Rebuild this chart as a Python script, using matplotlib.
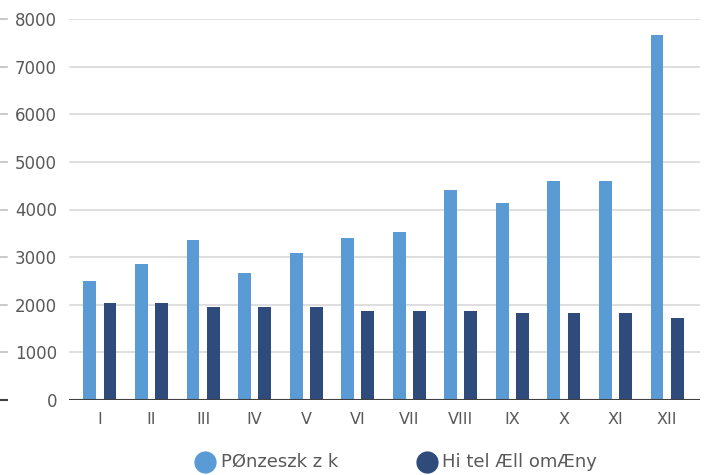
import matplotlib
matplotlib.use("Agg")
import matplotlib.pyplot as plt
from matplotlib.lines import Line2D
import numpy as np

categories = ["I", "II", "III", "IV", "V", "VI", "VII", "VIII", "IX", "X", "XI", "XII"]
penzeszkozok = [2500, 2850, 3350, 2660, 3080, 3410, 3520, 4400, 4130, 4590, 4590, 7670]
hitelallomany = [2040, 2040, 1960, 1960, 1960, 1870, 1870, 1870, 1820, 1820, 1820, 1720]
series_names = ["PØnzeszk z k", "Hi tel Æll omÆny"]
yticks = [0, 1000, 2000, 3000, 4000, 5000, 6000, 7000, 8000]

c_light = "#5b9bd5"
c_dark = "#2f4b7c"
txt = "#595959"

plt.rcParams['font.family'] = ['DejaVu Sans']

fig = plt.figure(figsize=(7.08, 4.75), dpi=100)
W, H = 708, 475
ax = fig.add_axes([68 / W, 75 / H, 632 / W, 381 / H])

x = np.arange(len(categories))
bw = 0.25
off = 0.195
ax.bar(x - off, penzeszkozok, width=bw, color=c_light, zorder=3)
ax.bar(x + off, hitelallomany, width=bw, color=c_dark, zorder=3)

ax.set_xlim(-0.62, 11.64)
ax.set_ylim(0, 8000)

for s in ax.spines.values():
    s.set_visible(False)

# gridlines
for y in yticks:
    if y == 0:
        continue
    ax.axhline(y, xmin=2 / 632, xmax=1, color="#d9d9d9", lw=1.2, zorder=1)
    ax.axhline(y, xmin=-68 / 632, xmax=-61 / 632, color="#c0c0c0", lw=1.2, clip_on=False)
ax.axhline(0, xmin=2 / 632, xmax=1, color="#404040", lw=1.5, zorder=4)
ax.axhline(0, xmin=-68 / 632, xmax=-61 / 632, color="#404040", lw=1.5, clip_on=False)

ax.set_yticks(yticks)
ax.set_yticklabels([str(v) for v in yticks])
ax.tick_params(axis='y', length=0, pad=8, labelsize=12, labelcolor=txt)
ax.set_xticks(x)
ax.set_xticklabels(categories)
ax.tick_params(axis='x', length=0, pad=9, labelsize=11.5, labelcolor=txt)

# legend (manual placement)
leg_y = 1 - 462 / H
for name, col, cx, tx in zip(series_names, (c_light, c_dark), (205, 427), (221, 442)):
    fig.add_artist(Line2D([cx / W], [leg_y], transform=fig.transFigure, marker='o',
                          linestyle='none', markersize=15, color=col))
    fig.text(tx / W, leg_y, name, ha='left', va='center', fontsize=13, color=txt)

fig.savefig("out.png", dpi=100)
